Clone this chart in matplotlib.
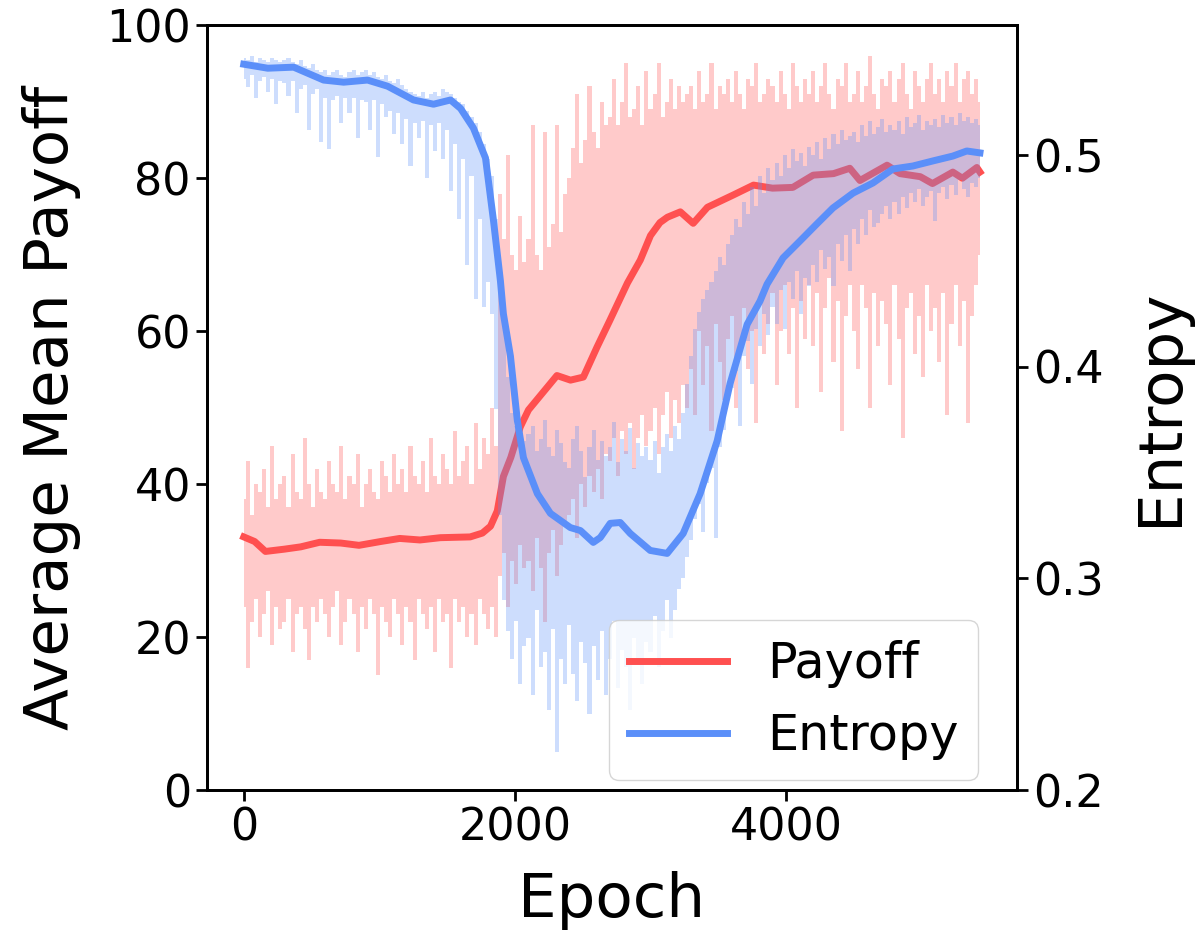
import numpy as np
import matplotlib
matplotlib.use("Agg")
import matplotlib.pyplot as plt

# raw per-epoch values, binned every 30 epochs: max and min within each bin
bin_width = 30
payoff_hi = [
    38, 43, 36, 40, 39, 42, 37, 45, 38, 40,
    41, 37, 44, 39, 38, 46, 40, 37, 42, 39,
    38, 43, 40, 39, 45, 38, 41, 40, 44, 37,
    40, 42, 39, 38, 43, 41, 39, 44, 40, 42,
    39, 45, 41, 40, 43, 39, 46, 41, 40, 44,
    42, 40, 47, 41, 43, 45, 40, 48, 42, 46,
    44, 50, 45, 78, 72, 83, 70, 68, 75, 69,
    72, 87, 70, 68, 86, 71, 74, 87, 73, 78,
    80, 84, 91, 82, 85, 92, 86, 84, 90, 87,
    88, 93, 87, 90, 95, 88, 89, 92, 87, 94,
    89, 91, 95, 88, 90, 93, 89, 92, 90, 91,
    92, 89, 94, 90, 91, 95, 89, 92, 91, 93,
    90, 94, 91, 89, 93, 92, 95, 90, 91, 93,
    92, 90, 94, 91, 89, 95, 92, 90, 93, 91,
    94, 90, 92, 95, 91, 89, 93, 92, 95, 90,
    91, 94, 90, 92, 96, 91, 89, 93, 92, 94,
    90, 93, 95, 91, 89, 94, 92, 90, 93, 95,
    91, 93, 90, 94, 92, 95, 90, 93, 94, 91,
    93, 90,
]
payoff_lo = [
    24, 16, 22, 25, 20, 23, 26, 19, 24, 21,
    22, 25, 18, 23, 24, 21, 17, 24, 22, 25,
    23, 20, 24, 26, 19, 22, 25, 23, 18, 24,
    21, 25, 23, 15, 24, 22, 20, 25, 23, 19,
    24, 22, 17, 25, 23, 21, 24, 18, 25, 22,
    23, 16, 25, 22, 24, 20, 23, 19, 25, 23,
    21, 24, 20, 28, 31, 24, 30, 27, 32, 29,
    30, 26, 33, 29, 22, 31, 34, 28, 32, 35,
    36, 38, 33, 40, 37, 41, 39, 42, 38, 44,
    43, 46, 41, 47, 44, 48, 42, 46, 49, 45,
    47, 50, 44, 49, 52, 46, 51, 48, 53, 50,
    55, 49, 60, 53, 58, 47, 61, 56, 51, 59,
    62, 50, 58, 63, 55, 60, 48, 64, 57, 61,
    65, 53, 60, 66, 57, 63, 50, 64, 59, 66,
    58, 65, 52, 63, 67, 56, 64, 47, 62, 66,
    60, 55, 66, 63, 50, 65, 58, 64, 61, 53,
    66, 59, 46, 63, 65, 57, 62, 54, 66, 60,
    63, 56, 65, 49, 61, 66, 58, 64, 48, 62,
    66, 70,
]
entropy_hi = [
    0.546, 0.545, 0.547, 0.544, 0.546, 0.545, 0.544, 0.546, 0.545, 0.544,
    0.545, 0.546, 0.544, 0.543, 0.545, 0.542, 0.541, 0.543, 0.540, 0.539,
    0.540, 0.538, 0.539, 0.540, 0.538, 0.537, 0.539, 0.540, 0.538, 0.539,
    0.540, 0.538, 0.539, 0.537, 0.536, 0.538, 0.535, 0.534, 0.536, 0.533,
    0.531, 0.530, 0.529, 0.528, 0.530, 0.527, 0.529, 0.530, 0.528, 0.531,
    0.530, 0.529, 0.527, 0.525, 0.524, 0.521, 0.518, 0.515, 0.511, 0.505,
    0.498, 0.490, 0.470, 0.445, 0.420, 0.395, 0.378, 0.372, 0.368, 0.365,
    0.368, 0.372, 0.360, 0.366, 0.375, 0.362, 0.358, 0.370, 0.364, 0.355,
    0.352, 0.366, 0.372, 0.360, 0.348, 0.362, 0.370, 0.356, 0.365, 0.358,
    0.362, 0.374, 0.355, 0.366, 0.360, 0.371, 0.352, 0.364, 0.358, 0.362,
    0.356, 0.365, 0.350, 0.362, 0.368, 0.360, 0.372, 0.366, 0.378, 0.392,
    0.405, 0.418, 0.426, 0.432, 0.436, 0.440, 0.445, 0.452, 0.448, 0.458,
    0.462, 0.470, 0.466, 0.478, 0.472, 0.485, 0.476, 0.490, 0.482, 0.494,
    0.488, 0.496, 0.490, 0.500, 0.494, 0.503, 0.497, 0.501, 0.495, 0.504,
    0.500, 0.506, 0.498, 0.508, 0.503, 0.510, 0.505, 0.512, 0.507, 0.509,
    0.511, 0.506, 0.514, 0.509, 0.516, 0.510, 0.513, 0.517, 0.511, 0.514,
    0.512, 0.516, 0.510, 0.518, 0.513, 0.515, 0.519, 0.512, 0.516, 0.514,
    0.517, 0.513, 0.519, 0.515, 0.518, 0.514, 0.520, 0.516, 0.518, 0.515,
    0.517, 0.514,
]
entropy_lo = [
    0.536, 0.532, 0.538, 0.527, 0.535, 0.537, 0.530, 0.536, 0.524, 0.535,
    0.534, 0.528, 0.535, 0.520, 0.531, 0.533, 0.512, 0.529, 0.531, 0.506,
    0.527, 0.503, 0.526, 0.528, 0.515, 0.527, 0.520, 0.527, 0.508, 0.526,
    0.525, 0.512, 0.526, 0.499, 0.524, 0.518, 0.521, 0.510, 0.520, 0.505,
    0.517, 0.495, 0.515, 0.508, 0.516, 0.489, 0.514, 0.502, 0.515, 0.498,
    0.512, 0.483, 0.505, 0.470, 0.498, 0.448, 0.490, 0.432, 0.470, 0.428,
    0.440, 0.425, 0.380, 0.330, 0.290, 0.275, 0.262, 0.280, 0.250, 0.268,
    0.272, 0.245, 0.285, 0.258, 0.265, 0.238, 0.276, 0.218, 0.262, 0.250,
    0.278, 0.255, 0.242, 0.270, 0.260, 0.236, 0.268, 0.252, 0.275, 0.245,
    0.262, 0.280, 0.248, 0.266, 0.258, 0.238, 0.272, 0.262, 0.250, 0.270,
    0.265, 0.282, 0.258, 0.275, 0.290, 0.272, 0.285, 0.295, 0.300, 0.310,
    0.318, 0.328, 0.335, 0.322, 0.345, 0.352, 0.319, 0.362, 0.370, 0.385,
    0.390, 0.398, 0.372, 0.405, 0.412, 0.392, 0.418, 0.410, 0.425, 0.415,
    0.428, 0.420, 0.436, 0.418, 0.440, 0.432, 0.445, 0.425, 0.442, 0.438,
    0.448, 0.440, 0.455, 0.446, 0.452, 0.438, 0.458, 0.450, 0.462, 0.445,
    0.465, 0.458, 0.470, 0.462, 0.474, 0.466, 0.468, 0.472, 0.476, 0.470,
    0.478, 0.472, 0.480, 0.475, 0.482, 0.478, 0.484, 0.476, 0.480, 0.483,
    0.469, 0.482, 0.485, 0.479, 0.486, 0.481, 0.488, 0.484, 0.480, 0.487,
    0.485, 0.489,
]

# moving-average curves
payoff_ep = [0, 80, 160, 300, 420, 560, 715, 850, 1010, 1150, 1300, 1450, 1670,
             1760, 1820, 1870, 1915, 1970, 2040, 2100, 2240, 2310, 2410, 2505,
             2605, 2700, 2830, 2925, 3000, 3070, 3125, 3220, 3315, 3420, 3610,
             3760, 3900, 4050, 4200, 4350, 4470, 4545, 4745, 4840, 4990, 5080,
             5230, 5300, 5407, 5430]
payoff_avg = [33.1, 32.5, 31.2, 31.5, 31.8, 32.4, 32.3, 32.0, 32.5, 32.9, 32.7,
              33.0, 33.1, 33.6, 34.5, 36.5, 41.0, 43.5, 47.5, 49.7, 52.7, 54.2,
              53.6, 54.0, 57.9, 61.4, 66.3, 69.3, 72.5, 74.2, 74.9, 75.6, 74.1,
              76.2, 77.8, 79.1, 78.7, 78.8, 80.4, 80.6, 81.3, 79.7, 81.7, 80.6,
              80.2, 79.3, 80.8, 80.0, 81.4, 80.8]

entropy_ep = [0, 177, 368, 589, 737, 913, 1061, 1252, 1400, 1525, 1599, 1694,
              1783, 1842, 1893, 1915, 1967, 2018, 2063, 2166, 2262, 2409, 2483,
              2578, 2630, 2703, 2777, 2851, 2998, 3123, 3241, 3366, 3492, 3587,
              3713, 3808, 3860, 3978, 4103, 4228, 4346, 4494, 4641, 4788, 4935,
              5083, 5230, 5333, 5430]
entropy_avg = [0.5429, 0.541, 0.5415, 0.5354, 0.5344, 0.5354, 0.5325, 0.526,
               0.524, 0.526, 0.522, 0.5127, 0.4986, 0.469, 0.4406, 0.425, 0.405,
               0.3745, 0.357, 0.340, 0.3307, 0.324, 0.3226, 0.317, 0.3193, 0.326,
               0.3264, 0.3212, 0.3132, 0.3118, 0.3212, 0.340, 0.365, 0.392, 0.42,
               0.431, 0.439, 0.4514, 0.4594, 0.4675, 0.475, 0.482, 0.4868, 0.4934,
               0.4948, 0.4972, 0.4995, 0.5019, 0.501]

red = '#FF5050'
blue = '#5B8FF9'

bin_ep = np.arange(len(payoff_hi)) * bin_width

fig, ax1 = plt.subplots(figsize=(11.99, 9.35), dpi=100)
fig.subplots_adjust(left=0.1726, right=0.848, bottom=0.155, top=0.973)

# raw curve drawn as its per-bin min/max envelope
ax1.fill_between(bin_ep, payoff_lo, payoff_hi, step='mid', color=red, alpha=0.3, lw=0)
line1, = ax1.plot(payoff_ep, payoff_avg, color=red, lw=5, label='Payoff')
ax1.set_ylim(0, 100)
ax1.set_yticks([0, 20, 40, 60, 80, 100])
ax1.set_xticks([0, 2000, 4000])
ax1.set_xlabel('Epoch', fontsize=44, labelpad=16)
ax1.set_ylabel('Average Mean Payoff', fontsize=44, labelpad=18)

ax2 = ax1.twinx()
ax2.fill_between(bin_ep, entropy_lo, entropy_hi, step='mid', color=blue, alpha=0.3, lw=0)
line2, = ax2.plot(entropy_ep, entropy_avg, color=blue, lw=5, label='Entropy')
ax2.set_ylim(0.2, 0.5613)
ax2.set_yticks([0.2, 0.3, 0.4, 0.5])
ax2.set_ylabel('Entropy', fontsize=44, labelpad=20)

for ax in (ax1, ax2):
    ax.tick_params(labelsize=32, width=2, length=8)
    for s in ax.spines.values():
        s.set_linewidth(2)

ax2.legend(handles=[line1, line2], fontsize=35.5, loc='lower right',
           bbox_to_anchor=(0.952, 0.013), borderaxespad=0)

fig.savefig('out.png', dpi=100)
